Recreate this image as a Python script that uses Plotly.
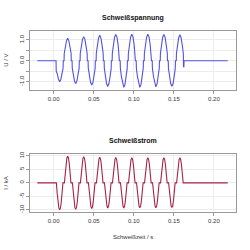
import plotly.graph_objects as go

# ---------------- data ----------------
lobe_centers = [0.0075, 0.0175, 0.0275, 0.0375, 0.0475, 0.0575, 0.0675, 0.0775,
                0.0875, 0.0975, 0.1075, 0.1175, 0.1275, 0.1375, 0.1475, 0.1575]

# time offsets of sampled points inside each current half-wave (s)
current_offsets = [-0.0041, -0.003, -0.002, -0.001, 0.0, 0.001, 0.002, 0.003, 0.0041]
current_lobes = [
    [0, -4.1, -7.2, -9.3, -10.0, -9.3, -7.2, -4.1, 0],
    [0, 4.1, 7.1, 9.2, 9.9, 9.2, 7.1, 4.1, 0],
    [0, -4.0, -7.1, -9.1, -9.8, -9.1, -7.1, -4.0, 0],
    [0, 4.0, 7.0, 9.0, 9.7, 9.0, 7.0, 4.0, 0],
    [0, -3.9, -6.8, -8.8, -9.5, -8.8, -6.8, -3.9, 0],
    [0, 3.9, 6.8, 8.8, 9.5, 8.8, 6.8, 3.9, 0],
    [0, -3.8, -6.7, -8.6, -9.3, -8.6, -6.7, -3.8, 0],
    [0, 3.9, 6.8, 8.7, 9.4, 8.7, 6.8, 3.9, 0],
    [0, -3.8, -6.7, -8.6, -9.3, -8.6, -6.7, -3.8, 0],
    [0, 3.8, 6.7, 8.6, 9.3, 8.6, 6.7, 3.8, 0],
    [0, -3.8, -6.6, -8.6, -9.2, -8.6, -6.6, -3.8, 0],
    [0, 3.8, 6.7, 8.6, 9.3, 8.6, 6.7, 3.8, 0],
    [0, -3.8, -6.6, -8.6, -9.2, -8.6, -6.6, -3.8, 0],
    [0, 3.8, 6.7, 8.6, 9.3, 8.6, 6.7, 3.8, 0],
    [0, -3.7, -6.6, -8.5, -9.1, -8.5, -6.6, -3.7, 0],
    [0, 3.8, 6.7, 8.6, 9.3, 8.6, 6.7, 3.8, 0],
]

voltage_offsets = [-0.0045, -0.0043, -0.003, -0.0015, 0.0, 0.0015, 0.003, 0.0043, 0.0045]
voltage_lobes = [
    [0, -0.50, -0.62, -0.89, -1.00, -0.89, -0.59, -0.35, 0],
    [0, 0.35, 0.64, 0.96, 1.08, 0.96, 0.64, 0.35, 0],
    [0, -0.35, -0.64, -0.97, -1.09, -0.97, -0.64, -0.35, 0],
    [0, 0.35, 0.68, 1.03, 1.16, 1.03, 0.68, 0.35, 0],
    [0, -0.35, -0.68, -1.03, -1.16, -1.03, -0.68, -0.35, 0],
    [0, 0.35, 0.73, 1.09, 1.23, 1.09, 0.73, 0.35, 0],
    [0, -0.35, -0.73, -1.09, -1.23, -1.09, -0.73, -0.35, 0],
    [0, 0.35, 0.75, 1.13, 1.27, 1.13, 0.75, 0.35, 0],
    [0, -0.35, -0.75, -1.13, -1.27, -1.13, -0.75, -0.35, 0],
    [0, 0.35, 0.76, 1.14, 1.28, 1.14, 0.76, 0.35, 0],
    [0, -0.35, -0.75, -1.13, -1.27, -1.13, -0.75, -0.35, 0],
    [0, 0.35, 0.76, 1.14, 1.28, 1.14, 0.76, 0.35, 0],
    [0, -0.35, -0.74, -1.11, -1.25, -1.11, -0.74, -0.35, 0],
    [0, 0.35, 0.75, 1.13, 1.27, 1.13, 0.75, 0.35, 0],
    [0, -0.35, -0.72, -1.09, -1.22, -1.09, -0.72, -0.35, 0],
    [0, 0.35, 0.74, 1.11, 1.25, 1.11, 0.74, 0.35, -0.28],
]

start_t, start_v = [-0.0204], [0.0]
current_end_t, current_end_v = [0.2172], [0.0]
voltage_end_t = [0.1625, 0.1627, 0.2172]
voltage_end_v = [-0.28, 0.0, 0.0]

x_ticks = [0.00, 0.05, 0.10, 0.15, 0.20]
u_ticks = [-1.0, -0.5, 0.0, 0.5, 1.0]
u_ticklabels = ["-1.0", "", "0.0", "", "1.0"]
i_ticks = [-10, -5, 0, 5, 10]

# ---------------- build series ----------------
t_i = list(start_t)
y_i = list(start_v)
for c, lobe in zip(lobe_centers, current_lobes):
    t_i += [c + o for o in current_offsets]
    y_i += lobe
t_i += current_end_t
y_i += current_end_v

t_u = list(start_t)
y_u = list(start_v)
for c, lobe in zip(lobe_centers, voltage_lobes):
    t_u += [c + o for o in voltage_offsets]
    y_u += lobe
t_u += voltage_end_t
y_u += voltage_end_v

# ---------------- figure ----------------
fig = go.Figure()
fig.add_trace(go.Scatter(x=t_u, y=y_u, mode="lines", xaxis="x", yaxis="y",
                         line=dict(color="#5252e0", width=1.1), hoverinfo="skip"))
fig.add_trace(go.Scatter(x=t_i, y=y_i, mode="lines", xaxis="x2", yaxis="y2",
                         line=dict(color="#a8234a", width=1.1), hoverinfo="skip"))

W = H = 250
x0, x1 = 30 / W, 236 / W
ax_common = dict(
    showline=True, mirror=True, linecolor="#9a9a9a", linewidth=1,
    ticks="outside", ticklen=3, tickcolor="#9a9a9a", tickwidth=1,
    showgrid=True, gridcolor="#ececec", gridwidth=1, zeroline=False,
    tickfont=dict(family="Liberation Sans", size=6, color="#333333"),
)
xr = [-0.0295, 0.2275]
fig.update_layout(
    width=W, height=H, margin=dict(l=0, r=0, t=0, b=0),
    paper_bgcolor="white", plot_bgcolor="white", showlegend=False,
    xaxis=dict(domain=[x0, x1], anchor="y", range=xr, tickvals=x_ticks,
               ticktext=[f"{v:.2f}" for v in x_ticks], **ax_common),
    yaxis=dict(domain=[1 - 89 / H, 1 - 29 / H], anchor="x", range=[-1.41, 1.41],
               tickvals=u_ticks, ticktext=u_ticklabels, tickangle=-90, **ax_common),
    xaxis2=dict(domain=[x0, x1], anchor="y2", range=xr, tickvals=x_ticks,
                ticktext=[f"{v:.2f}" for v in x_ticks], **ax_common),
    yaxis2=dict(domain=[1 - 213 / H, 1 - 154.3 / H], anchor="x2", range=[-10.7, 10.6],
                tickvals=i_ticks, ticktext=[str(v) for v in i_ticks], tickangle=-90,
                **ax_common),
)

xc = (x0 + x1) / 2
title_font = dict(family="Liberation Sans", size=7, color="#111111")
label_font = dict(family="Liberation Sans", size=6, color="#333333")
fig.add_annotation(text="<b>Schweißspannung</b>", x=xc, y=1 - 15 / H, xref="paper", yref="paper",
                   showarrow=False, font=title_font, xanchor="center", yanchor="middle")
fig.add_annotation(text="<b>Schweißstrom</b>", x=xc, y=1 - 140 / H, xref="paper", yref="paper",
                   showarrow=False, font=title_font, xanchor="center", yanchor="middle")
fig.add_annotation(text="U / V", x=6 / W, y=1 - 59 / H, xref="paper", yref="paper",
                   showarrow=False, font=label_font, textangle=-90,
                   xanchor="center", yanchor="middle")
fig.add_annotation(text="I / kA", x=6 / W, y=1 - 183.5 / H, xref="paper", yref="paper",
                   showarrow=False, font=label_font, textangle=-90,
                   xanchor="center", yanchor="middle")
fig.add_annotation(text="Schweißzeit / s", x=xc, y=1 - 239 / H, xref="paper", yref="paper",
                   showarrow=False, font=label_font, xanchor="center", yanchor="middle")

fig.write_html("out.html")
